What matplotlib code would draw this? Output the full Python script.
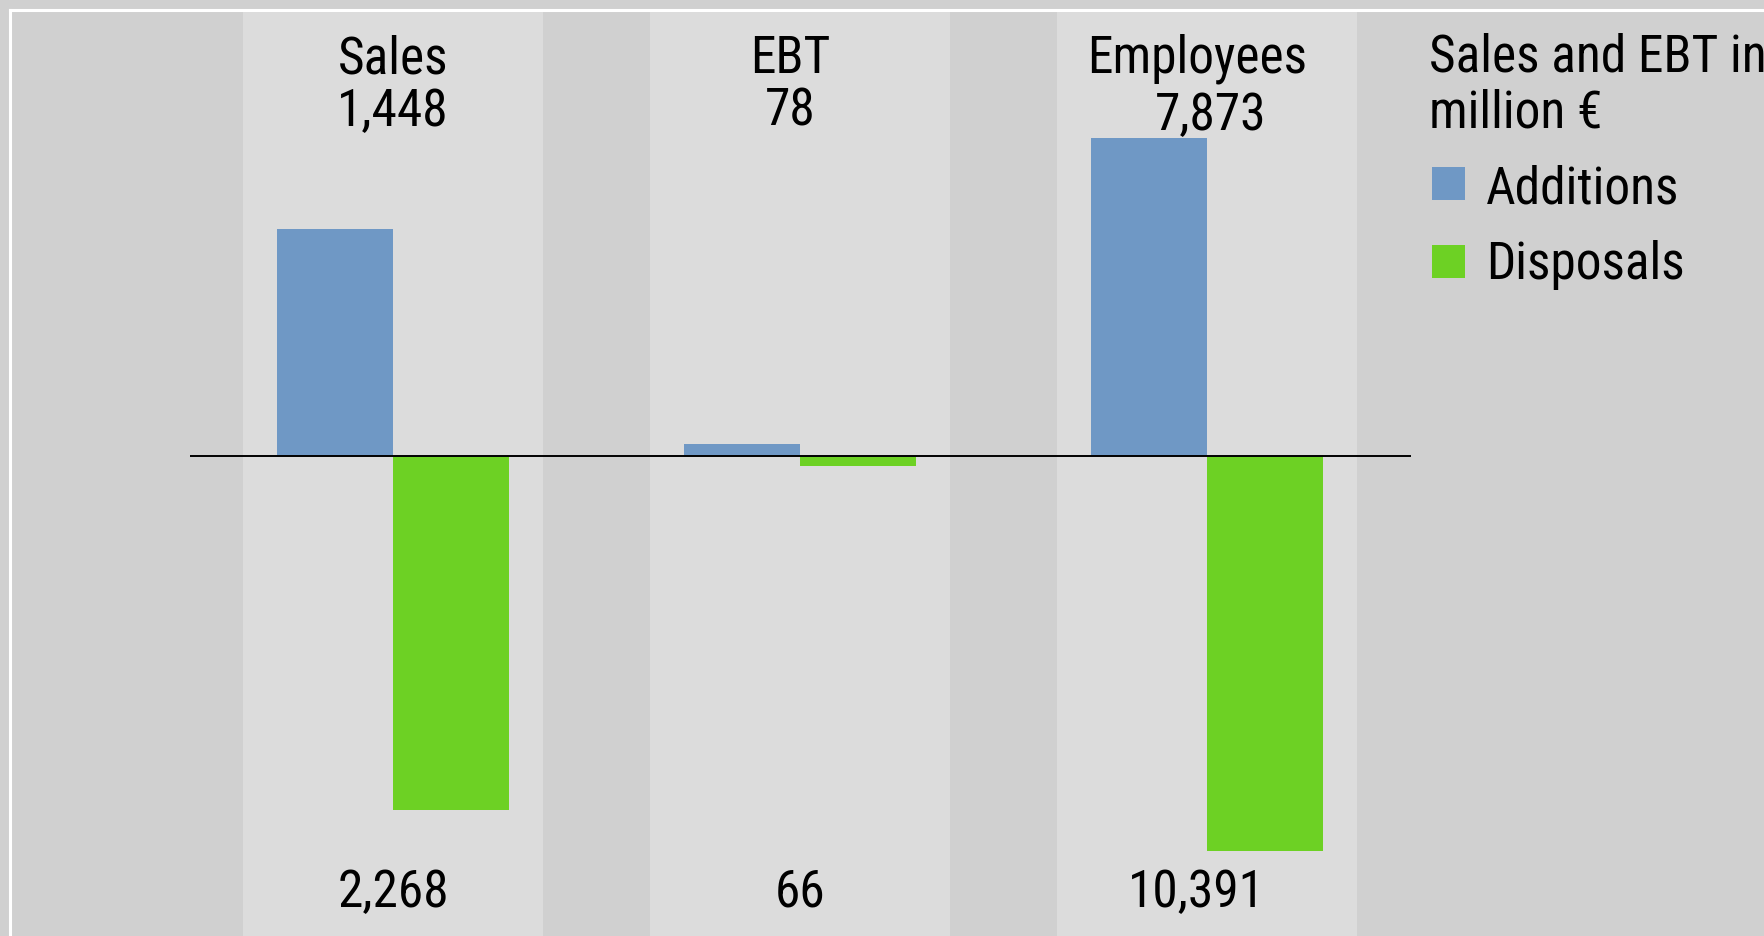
import numpy as np
import matplotlib
matplotlib.use('Agg')
import matplotlib.pyplot as plt
from matplotlib import font_manager
from matplotlib.patches import Rectangle
from matplotlib.transforms import blended_transform_factory

# data
categories = ['Sales', 'EBT', 'Employees']
additions = [1448, 78, 7873]
disposals = [2268, 66, 10391]
legend_title = 'Sales and EBT in\nmillion €'
series_names = ['Additions', 'Disposals']

BLUE = '#6f98c5'
GREEN = '#6dd124'
DARK = '#d0d0d0'
LIGHT = '#dcdcdc'

names = {f.name for f in font_manager.fontManager.ttflist}
font = next((n for n in ['Liberation Sans Narrow', 'Roboto Condensed', 'Roboto'] if n in names), 'DejaVu Sans')
plt.rcParams['font.family'] = [font, 'DejaVu Sans']
FS = 37

W, H = 1764, 937
fig = plt.figure(figsize=(W / 100, H / 100), dpi=100, facecolor=DARK)
ax = fig.add_axes([10 / W, 0, 1 - 10 / W, 1 - 10.7 / H])
ax.set_facecolor(DARK)

# px -> data mapping: group spacing 407 px, first group at 393 px, zero line at 456.7 px
ax.set_xlim((10 - 393) / 407, (W - 393) / 407)
ax.set_ylim(-(H - 456.7) * 6.40, (456.7 - 10.7) * 6.40)

# employees on their own axis (additions and disposals drawn with slightly different px/unit)
ax2 = ax.twinx()
k_pos, k_neg = 24.78, 26.31
ax2.set_yscale('function', functions=(lambda y: np.where(y >= 0, y / k_pos, y / k_neg),
                                      lambda p: np.where(p >= 0, p * k_pos, p * k_neg)))
ax2.set_ylim(-(H - 456.7) * k_neg, (456.7 - 10.7) * k_pos)

x = np.arange(len(categories))
bw = 0.286
for xi in x:
    ax.axvspan(xi - 0.369, xi + 0.369, color=LIGHT, lw=0, zorder=0)

ax.bar(x[:2] - bw / 2, additions[:2], bw, color=BLUE, zorder=2)
ax.bar(x[:2] + bw / 2, [-v for v in disposals[:2]], bw, color=GREEN, zorder=2)
ax2.bar(x[2:] - bw / 2, additions[2:], bw, color=BLUE, zorder=2)
ax2.bar(x[2:] + bw / 2, [-v for v in disposals[2:]], bw, color=GREEN, zorder=2)
ax2.hlines(0, -0.5, 2.5, color='black', lw=1.4, zorder=5)

for a in (ax, ax2):
    a.set_xticks([])
    a.set_yticks([])
    a.minorticks_off()
    for s in a.spines.values():
        s.set_visible(False)
ax.spines['left'].set_visible(True)
ax.spines['top'].set_visible(True)
ax.spines['left'].set_color('white')
ax.spines['top'].set_color('white')
ax.spines['left'].set_linewidth(2.2)
ax.spines['top'].set_linewidth(2.2)

# labels: x in data, y in figure pixels from top
tr = blended_transform_factory(ax.transData, fig.transFigure)
for xi, cat, a, d in zip(x, categories, additions, disposals):
    ax.text(xi - (0 if xi == 0 else 0.025), 1 - 73 / H, cat, transform=tr, ha='center', va='baseline', fontsize=FS)
    ax.text(xi + (0.008 if xi == 2 else (0 if xi == 0 else -0.025)), 1 - (130 if xi == 2 else 126) / H, f'{a:,}',
            transform=tr, ha='center', va='baseline', fontsize=FS)
    ax.text(xi - (0.025 if xi == 2 else 0), 1 - 907 / H, f'{d:,}', transform=tr, ha='center', va='baseline', fontsize=FS)

# legend
title_lines = legend_title.split('\n')
fig.text(1429 / W, 1 - 71.7 / H, title_lines[0], ha='left', va='baseline', fontsize=FS)
fig.text(1429 / W, 1 - 128 / H, title_lines[1], ha='left', va='baseline', fontsize=FS)
for (name, col, top, base) in zip(series_names, [BLUE, GREEN], [168, 246], [204, 279]):
    fig.patches.append(Rectangle((1432 / W, 1 - (top + 33) / H), 33 / W, 33 / H,
                                 transform=fig.transFigure, color=col, lw=0))
    fig.text(1486 / W, 1 - base / H, name, ha='left', va='baseline', fontsize=FS)

fig.savefig('out.png', dpi=100, facecolor=DARK)
